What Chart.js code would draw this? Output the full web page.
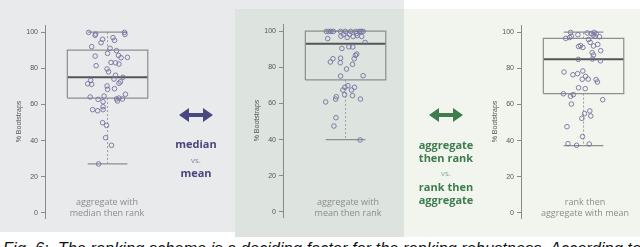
<!DOCTYPE html>
<html>
<head>
<meta charset="utf-8">
<script src="https://cdn.jsdelivr.net/npm/chart.js@4.4.0/dist/chart.umd.min.js"></script>
<style>
  html, body { margin: 0; padding: 0; }
  body { width: 640px; height: 247px; overflow: hidden; position: relative; background: #fff; font-family: "Open Sans", sans-serif; }
  .painel { position: absolute; }
  #p1 { left: 0; top: 0; width: 404px; height: 232px; background: #e9eaec; }
  #p2 { left: 235px; top: 9px; width: 169px; height: 228px; background: #dde3de; }
  #p3 { left: 404px; top: 9px; width: 236px; height: 228px; background: #f2f5ee; }
  canvas { position: absolute; }
  .rotulo { position: absolute; width: 140px; text-align: center; font-size: 9px; line-height: 11px; color: #8c8c8c; }
  .meio { position: absolute; width: 90px; text-align: center; font-weight: 700; font-size: 11px; line-height: 13px; }
  .roxo { color: #4a4681; }
  .verde { color: #3d7c4c; }
  .vs { font-weight: 400; font-size: 8px; }
  .roxo.vs { color: #8b89a9; }
  .verde.vs { color: #8fa896; }
  .seta { position: absolute; width: 34px; height: 16px; }
  #legenda { position: absolute; left: 3px; top: 239px; font-family: "Liberation Sans", Arial, sans-serif; font-style: italic; font-size: 16.4px; line-height: 18px; white-space: nowrap; color: #111; }
</style>
</head>
<body>
  <div class="painel" id="p1"></div>
  <div class="painel" id="p2"></div>
  <div class="painel" id="p3"></div>

  <canvas id="grafico1" width="175" height="232" style="left:0px;top:0px"></canvas>
  <canvas id="grafico2" width="175" height="232" style="left:238px;top:-1px"></canvas>
  <canvas id="grafico3" width="175" height="232" style="left:476px;top:0px"></canvas>

  <div class="rotulo" style="left:37px;top:196px">aggregate with<br>median then rank</div>
  <div class="rotulo" style="left:278px;top:196px">aggregate with<br>mean then rank</div>
  <div class="rotulo" style="left:515px;top:196px">rank then<br>aggregate with mean</div>

  <svg class="seta" style="left:179px;top:107px" viewBox="0 0 34 16"><polygon fill="#4a4681" points="0,8 10,1 10,6 24,6 24,1 34,8 24,15 24,10 10,10 10,15"/></svg>
  <div class="meio roxo" style="left:151px;top:137px">median</div>
  <div class="meio roxo vs" style="left:151px;top:153px">vs.</div>
  <div class="meio roxo" style="left:151px;top:166px">mean</div>

  <svg class="seta" style="left:429px;top:107px" viewBox="0 0 34 16"><polygon fill="#3d7c4c" points="0,8 10,1 10,6 24,6 24,1 34,8 24,15 24,10 10,10 10,15"/></svg>
  <div class="meio verde" style="left:401px;top:138px">aggregate</div>
  <div class="meio verde" style="left:401px;top:151px">then rank</div>
  <div class="meio verde vs" style="left:401px;top:166px">vs.</div>
  <div class="meio verde" style="left:401px;top:180px">rank then</div>
  <div class="meio verde" style="left:401px;top:193px">aggregate</div>

  <div id="legenda">Fig. 6:&nbsp; The ranking scheme is a deciding factor for the ranking robustness. According to the</div>

<script>
  // =================== DADOS ====================
  const yTicks = [0, 20, 40, 60, 80, 100];
  const eixoTitulo = "% Bootstraps";

  // aggregate with median then rank
  const valores1 = [99.8, 98.9, 98.2, 99.8, 98.7, 96.9, 95.4, 96, 94.1, 91.9, 91, 89.7, 87.1, 85.8, 86, 86.7, 88.2,
    83.2, 83, 82.3, 81.4, 79.6, 78, 76.1, 75, 74, 73.3, 72.5, 71.7, 71.4, 71.1, 70.2, 68.3, 68.7, 65.6, 64.6, 64.1,
    63, 63.5, 63, 62.8, 61.9, 61.5, 58.7, 57.1, 57.1, 56.5, 49.9, 48.4, 41.6, 37.4, 27.1];
  const jitter1 = [-19, -12, -12.5, 17, 17.5, 5.5, 7, -5, -6.5, -16, 2.5, 9, 11, 13.5, 20, -12.5, 0,
    3.5, 8, 11.5, -11.5, -0.5, 1, 8, 15.5, 6.5, -17, 13, 11.5, -20, -16, -0.5, 0, 7, 18, -3.5, -17.5,
    9, 11.5, 15, -9.5, 10, -4.5, -4.5, -4.5, -15, -10, -5, -1, -2, 4, -9];
  const caixa1 = [27.1, 63.5, 75, 90, 100]; // min, q1, mediana, q3, max

  // aggregate with mean then rank
  const valores2 = [99.8, 99.8, 99.8, 99.8, 99.8, 99.8, 99.8, 99.8, 99.8, 99.8, 99.8, 98.7, 98.2, 98.2, 97.2, 96.5,
    97, 97.5, 97, 95.8, 93.7, 91.3, 91.2, 90.4, 87.3, 86.6, 84.7, 85, 84.7, 82.9, 82.5, 81.6, 79, 75.1, 75.3,
    69.8, 68.9, 68.9, 67.4, 67.4, 64.8, 64.3, 63.7, 62.4, 62.4, 60.8, 52.1, 47.5, 39.8];
  const jitter2 = [-19.3, -17, -14.7, -12.3, -5, -0.3, 5.3, 10.3, 14, 15.7, 17.7, 11.3, -2, 4, -4.7, 1.7,
    7.7, 11.7, 16.3, -18, 19.7, 3.3, 7.3, -3.7, 11.3, 10, -12.7, -5, 8.7, -15.3, -5.3, 7, 1, -5, 17.7,
    2.3, -0.7, 9, -2.7, 6, -1, 7, -9.3, -10, 15, -20, -9.7, -11.7, 14.7];
  const caixa2 = [40, 73, 93, 100, 100];

  // rank then aggregate with mean
  const valores3 = [99.8, 98.5, 97.7, 96.5, 97, 99.5, 99.2, 99.8, 99, 98.3, 97.4, 97.6, 95.9, 94.3, 92.3, 93.2,
    92, 92.5, 91.5, 89.7, 88.6, 87.3, 84.9, 85.1, 84.1, 77.9, 76.4, 77, 78.5, 75.5, 74, 73.9, 73.7, 72.4, 69.2,
    68.7, 65.9, 65.4, 64.5, 62.6, 60.2, 56.4, 54.9, 53.6, 52.3, 47.7, 42.2, 38.3, 37.4, 38.1];
  const jitter3 = [-13, -5.7, -12.3, -18, -14, 3.7, 7.7, 10.7, 12.7, 9.7, 16, 11.7, 5, 6.7, 10, 14.3,
    -5, -3, -0.7, 17.3, 8.7, 10, -5.3, 9, 17, -19.7, -10.7, -6, -0.7, 2, 4.7, -1.3, 12.7, 14, -5,
    1.7, -20.3, -10.3, -13, 19.3, -12.3, 6.3, 1, 7.3, -1.7, -16.7, -1, -15.7, -7, 5.7];
  const caixa3 = [37.2, 66, 85, 96.5, 100];

  // =================== GRAFICOS ====================
  const meiaCaixa = 40.5;
  const meiaBarra = 20;

  function segmento(pontos, cor, largura, tracejado) {
    return {
      data: pontos,
      showLine: true,
      borderColor: cor,
      borderWidth: largura,
      borderDash: tracejado || [],
      borderCapStyle: "butt",
      pointRadius: 0
    };
  }

  function montarDatasets(valores, jitter, caixa) {
    const [minimo, q1, mediana, q3, maximo] = caixa;
    const L = meiaCaixa, C = meiaBarra;
    return [
      {
        data: valores.map((v, i) => ({ x: jitter[i], y: v })),
        showLine: false,
        pointRadius: 2.3,
        borderWidth: 0.9,
        borderColor: "#74729f",
        backgroundColor: "rgba(0,0,0,0)"
      },
      segmento([{ x: -L, y: q1 }, { x: L, y: q1 }, { x: L, y: q3 }, { x: -L, y: q3 }, { x: -L, y: q1 }], "#8e8e8e", 1.2),
      segmento([{ x: -L, y: mediana }, { x: L, y: mediana }], "#555", 2),
      segmento([{ x: 0, y: q3 }, { x: 0, y: maximo }], "#9a9a9a", 1, [2, 2]),
      segmento([{ x: 0, y: q1 }, { x: 0, y: minimo }], "#9a9a9a", 1, [2, 2]),
      segmento([{ x: -C, y: maximo }, { x: C, y: maximo }], "#8e8e8e", 1.2),
      segmento([{ x: -C, y: minimo }, { x: C, y: minimo }], "#8e8e8e", 1.2)
    ];
  }

  function criarGrafico(id, valores, jitter, caixa) {
    new Chart(document.getElementById(id), {
      type: "scatter",
      data: { datasets: montarDatasets(valores, jitter, caixa) },
      options: {
        responsive: false,
        animation: false,
        devicePixelRatio: 1,
        layout: { padding: { top: 25, bottom: 14, left: 0, right: 2 } },
        plugins: { legend: { display: false }, tooltip: { enabled: false } },
        scales: {
          x: { type: "linear", min: -63, max: 63, display: false },
          y: {
            min: -2.8,
            max: 103.9,
            afterBuildTicks: s => { s.ticks = yTicks.map(v => ({ value: v })); },
            afterFit: s => { s.width = 45; },
            ticks: { font: { size: 7, family: "Liberation Sans" }, color: "#555", padding: 3 },
            grid: { drawOnChartArea: false, tickLength: 4, color: "#8a8a8a" },
            border: { color: "#8a8a8a", width: 1 },
            title: {
              display: true,
              text: eixoTitulo,
              font: { size: 7, family: "Liberation Sans" },
              color: "#555",
              padding: { top: 15, bottom: 0 }
            }
          }
        }
      }
    });
  }

  criarGrafico("grafico1", valores1, jitter1, caixa1);
  criarGrafico("grafico2", valores2, jitter2, caixa2);
  criarGrafico("grafico3", valores3, jitter3, caixa3);
</script>
</body>
</html>
